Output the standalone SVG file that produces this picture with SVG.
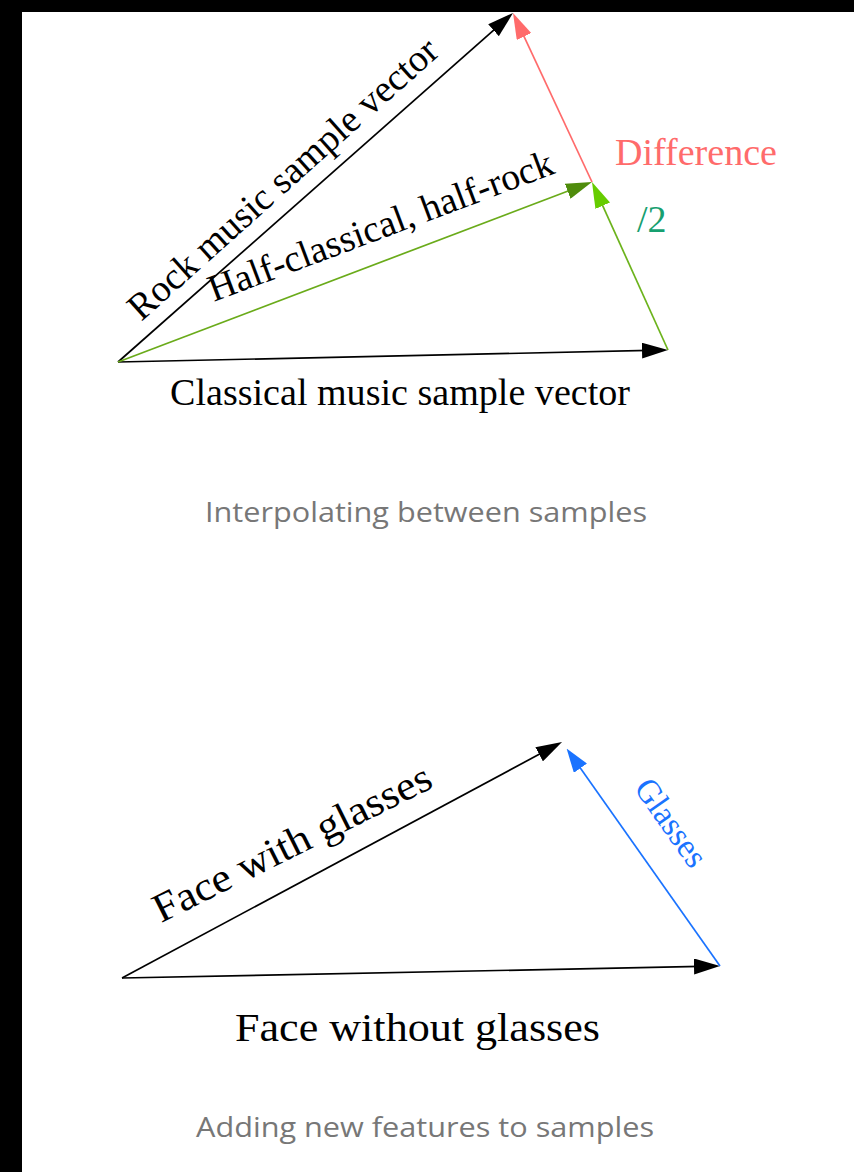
<svg xmlns="http://www.w3.org/2000/svg" width="854" height="1172" viewBox="0 0 854 1172">
<style>
.ln{fill:none;stroke-width:1.7}
.serif{font-family:"Liberation Serif","Times New Roman",serif}
.cap{font-family:"Open Sans","Noto Sans",sans-serif;font-size:28px;fill:#777}
</style>
<defs>
<marker id="hBlack" markerUnits="userSpaceOnUse" viewBox="0 0 26 16" refX="18" refY="8" markerWidth="26" markerHeight="16" orient="auto"><path d="M0,0 L26,8 L0,16 z" fill="#000"/></marker>
<marker id="hRed" markerUnits="userSpaceOnUse" viewBox="0 0 26 16" refX="18" refY="8" markerWidth="26" markerHeight="16" orient="auto"><path d="M0,0 L26,8 L0,16 z" fill="#ff6b6b"/></marker>
<marker id="hOlive" markerUnits="userSpaceOnUse" viewBox="0 0 26 16" refX="18" refY="8" markerWidth="26" markerHeight="16" orient="auto"><path d="M0,0 L26,8 L0,16 z" fill="#4f8c0c"/></marker>
<marker id="hLime" markerUnits="userSpaceOnUse" viewBox="0 0 26 16" refX="18" refY="8" markerWidth="26" markerHeight="16" orient="auto"><path d="M0,0 L26,8 L0,16 z" fill="#66cc00"/></marker>
<marker id="hBlue" markerUnits="userSpaceOnUse" viewBox="0 0 24 16" refX="16" refY="8" markerWidth="24" markerHeight="16" orient="auto"><path d="M0,0 L24,8 L0,16 z" fill="#1a73ff"/></marker>
</defs>
<rect x="0" y="0" width="854" height="1172" fill="#fff"/>
<rect x="0" y="0" width="22" height="1172" fill="#000"/>
<rect x="0" y="0" width="854" height="12" fill="#000"/>

<g id="connectors">
<line class="ln" x1="118" y1="362" x2="507.0" y2="18.3" stroke="#000" marker-end="url(#hBlack)"/>
<line class="ln" x1="118" y1="362" x2="660.0" y2="350.2" stroke="#000" marker-end="url(#hBlack)"/>
<line class="ln" x1="118" y1="362" x2="584.5" y2="184.8" stroke="#6aab1a" marker-end="url(#hOlive)"/>
<line class="ln" x1="592" y1="182" x2="516.4" y2="20.2" stroke="#ff6b6b" marker-end="url(#hRed)"/>
<line class="ln" x1="668" y1="350" x2="595.3" y2="189.3" stroke="#6cb31c" marker-end="url(#hLime)"/>
<line class="ln" x1="122" y1="978" x2="555.0" y2="745.8" stroke="#000" marker-end="url(#hBlack)"/>
<line class="ln" x1="122" y1="978" x2="712.0" y2="966.2" stroke="#000" marker-end="url(#hBlack)"/>
<line class="ln" x1="720" y1="966" x2="571.2" y2="755.1" stroke="#1a73ff" marker-end="url(#hBlue)"/>
</g>

<g id="rock-label">
<text class="serif" transform="translate(291,188) rotate(-41.8)" x="0" y="0" text-anchor="middle" font-size="38" textLength="402" lengthAdjust="spacingAndGlyphs" fill="#000">Rock music sample vector</text>
</g>
<g id="half-label">
<text class="serif" transform="translate(385,237.5) rotate(-20.6)" x="0" y="0" text-anchor="middle" font-size="38" textLength="366" lengthAdjust="spacingAndGlyphs" fill="#000">Half-classical, half-rock</text>
</g>
<g id="classical-label">
<text class="serif" x="400" y="405" text-anchor="middle" font-size="38" textLength="460" lengthAdjust="spacingAndGlyphs" fill="#000">Classical music sample vector</text>
</g>
<g id="difference-label">
<text class="serif" x="615" y="165" font-size="38" textLength="162" lengthAdjust="spacingAndGlyphs" fill="#ff6b6b">Difference</text>
</g>
<g id="half-factor-label">
<text class="serif" x="637" y="232" font-size="38" fill="#17a070">/2</text>
</g>
<g id="caption-top">
<text class="cap" x="426" y="522" text-anchor="middle" textLength="442" lengthAdjust="spacingAndGlyphs">Interpolating between samples</text>
</g>

<g id="face-with-label">
<text class="serif" transform="translate(298,855) rotate(-26.5)" x="0" y="0" text-anchor="middle" font-size="41" textLength="306" lengthAdjust="spacingAndGlyphs" fill="#000">Face with glasses</text>
</g>
<g id="glasses-label">
<text class="serif" transform="translate(662,829) rotate(54.8)" x="0" y="0" text-anchor="middle" font-size="34" textLength="100" lengthAdjust="spacingAndGlyphs" fill="#1a73ff">Glasses</text>
</g>
<g id="face-without-label">
<text class="serif" x="417.5" y="1041" text-anchor="middle" font-size="40" textLength="365" lengthAdjust="spacingAndGlyphs" fill="#000">Face without glasses</text>
</g>
<g id="caption-bottom">
<text class="cap" x="425" y="1137" text-anchor="middle" textLength="458" lengthAdjust="spacingAndGlyphs">Adding new features to samples</text>
</g>
</svg>
